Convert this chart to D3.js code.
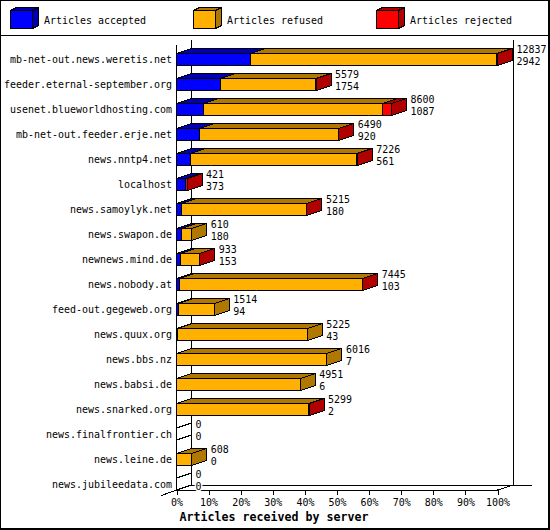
<!DOCTYPE html>
<html>
<head>
<meta charset="utf-8">
<script src="https://cdn.jsdelivr.net/npm/d3@7"></script>
<style>
  html, body { margin: 0; padding: 0; background: #fff; }
  svg { display: block; }
  text { font-family: "DejaVu Sans Mono", monospace; font-size: 11px; fill: #000; }
</style>
</head>
<body>
<div id="chart"></div>
<script>
// ---------- Data ----------
const servers = [
  'mb-net-out.news.weretis.net', 'feeder.eternal-september.org', 'usenet.blueworldhosting.com',
  'mb-net-out.feeder.erje.net', 'news.nntp4.net', 'localhost', 'news.samoylyk.net',
  'news.swapon.de', 'newnews.mind.de', 'news.nobody.at', 'feed-out.gegeweb.org', 'news.quux.org',
  'news.bbs.nz', 'news.babsi.de', 'news.snarked.org', 'news.finalfrontier.ch', 'news.leine.de',
  'news.jubileedata.com'
];
const labelsOffered = [12837, 5579, 8600, 6490, 7226, 421, 5215, 610, 933, 7445, 1514, 5225, 6016, 4951, 5299, 0, 608, 0];
const accepted = [2942, 1754, 1087, 920, 561, 373, 180, 180, 153, 103, 94, 43, 7, 6, 2, 0, 0, 0];
const refused = [9870, 3819, 7153, 5564, 6655, 0, 5030, 430, 772, 7338, 1420, 5182, 6009, 4945, 5294, 0, 608, 0];
const rejected = [25, 6, 360, 6, 10, 48, 5, 0, 8, 4, 0, 0, 0, 0, 3, 0, 0, 0];
const percentTicks = [0, 10, 20, 30, 40, 50, 60, 70, 80, 90, 100];
const legendNames = ['Articles accepted', 'Articles refused', 'Articles rejected'];
const frontColors = ['#0000ff', '#ffb000', '#ff0000'];
const darkColors = ['#0000b0', '#b07800', '#b00000'];

// ---------- Layout ----------
const width = 550, height = 530;
const depthX = 15, depthY = 5;      // 3d offset of the plot
const plotLeft = 176.5, plotRight = 497.5;  // front plane of the x axis
const backRight = 513.5;
const plotTop = 40, plotBottom = 490;
const barHeight = 12;

const svg = d3.select('#chart').append('svg')
  .attr('width', width)
  .attr('height', height)
  .attr('shape-rendering', 'crispEdges');

const x = d3.scaleLinear().domain([0, d3.max(labelsOffered)]).range([plotLeft, plotRight]);
const xPercent = d3.scaleLinear().domain([0, 100]).range([plotLeft, plotRight]);
const y = d3.scaleBand().domain(servers).range([plotTop, plotBottom]);

const line = (g, x1, y1, x2, y2) => g.append('line')
  .attr('x1', x1).attr('y1', y1).attr('x2', x2).attr('y2', y2)
  .attr('stroke', '#000');

// The reference font is a taller bitmap face with a fixed pitch, so squeeze to that pitch
function pitch(sel, px) {
  sel.each(function () {
    d3.select(this)
      .attr('textLength', this.textContent.length * px)
      .attr('lengthAdjust', 'spacingAndGlyphs');
  });
}

// Draw one 3d box. Front face, top face and optionally the side face
function box(g, x0, x1, yTop, h, dx, dy, i, withSide) {
  if (withSide) {
    g.append('polygon')
      .attr('points', [[x1, yTop], [x1 + dx, yTop - dy], [x1 + dx, yTop + h - dy], [x1, yTop + h]].join(' '))
      .attr('fill', darkColors[i]).attr('stroke', '#000');
  }
  g.append('polygon')
    .attr('points', [[x0, yTop], [x0 + dx, yTop - dy], [x1 + dx, yTop - dy], [x1, yTop]].join(' '))
    .attr('fill', darkColors[i]).attr('stroke', '#000');
  g.append('rect')
    .attr('x', x0).attr('y', yTop)
    .attr('width', x1 - x0).attr('height', h)
    .attr('fill', frontColors[i]).attr('stroke', '#000');
}

// ---------- Frame and legend ----------
svg.append('rect')
  .attr('width', 549).attr('height', 529)
  .attr('fill', '#fff').attr('stroke', '#000').attr('stroke-width', 2);
line(svg, 0, 35.5, 550, 35.5);

const legendX = [10.5, 193.5, 376.5];
legendNames.forEach((name, i) => {
  const g = svg.append('g');
  box(g, legendX[i], legendX[i] + 22, 10.5, 18, 6, 3, i, true);
  g.append('text')
    .attr('x', legendX[i] + 33.5).attr('y', 20)
    .attr('dy', '0.35em')
    .text(name)
    .call(pitch, 6);
});

// ---------- Axis walls ----------
const walls = svg.append('g');
line(walls, plotLeft, plotTop + 5, plotLeft, plotBottom);
line(walls, plotLeft + depthX, plotTop, plotLeft + depthX, plotBottom - depthY);
line(walls, backRight, plotTop, backRight, plotBottom - depthY);
line(walls, plotLeft + depthX, plotBottom - depthY + 0.5, 531.5, plotBottom - depthY + 0.5);
line(walls, plotLeft - depthX, plotBottom + depthY + 0.5, plotLeft, plotBottom);
line(walls, plotRight, plotBottom, backRight, plotBottom - depthY);

// x axis with percent labels
const xAxis = d3.axisBottom(xPercent)
  .tickValues(percentTicks)
  .tickFormat(d => d + '%')
  .tickSize(5)
  .tickPadding(3);
const axisG = svg.append('g').attr('transform', `translate(0,${plotBottom})`).call(xAxis);
axisG.attr('font-family', null).attr('font-size', null);
axisG.select('.domain').attr('d', `M${plotLeft},0.5H${plotRight}`).attr('stroke', '#000');
axisG.selectAll('.tick line').attr('stroke', '#000');
axisG.selectAll('.tick text').call(pitch, 6);

svg.append('text')
  .attr('x', 274).attr('y', 517)
  .attr('dy', '0.35em')
  .attr('text-anchor', 'middle')
  .style('font-size', '12.5px')
  .style('font-weight', 'bold')
  .text('Articles received by server')
  .call(pitch, 7);

// ---------- Bars ----------
servers.forEach((name, r) => {
  const bandBottom = y(name) + y.bandwidth();
  const yTop = bandBottom - barHeight;
  const g = svg.append('g');

  g.append('text')
    .attr('x', 172).attr('y', bandBottom - 6)
    .attr('dy', '0.35em')
    .attr('text-anchor', 'end')
    .text(name)
    .call(pitch, 6);

  const parts = [accepted[r], refused[r], rejected[r]];
  const lastPart = parts.reduce((last, v, i) => (v > 0 ? i : last), -1);

  if (lastPart < 0) {
    // empty row: only the outline of a zero width bar
    line(g, plotLeft, yTop, plotLeft + depthX, yTop - depthY);
    line(g, plotLeft, bandBottom, plotLeft + depthX, bandBottom - depthY);
  }

  let sum = 0;
  parts.forEach((v, i) => {
    if (v <= 0) return;
    const x0 = Math.floor(x(sum)) + 0.5;
    const x1 = Math.floor(x(sum + v)) + 0.5;
    box(g, x0, x1, yTop + 0.5, barHeight, depthX, depthY, i, i === lastPart);
    sum += v;
  });

  // value labels sit right of the back edge of the bar
  const labelX = x(sum) + depthX + 4;
  g.selectAll('text.value')
    .data([labelsOffered[r], accepted[r]])
    .enter().append('text')
    .attr('class', 'value')
    .attr('x', labelX)
    .attr('y', (d, k) => y(name) + 9.5 + k * 12)
    .attr('dy', '0.35em')
    .style('font-size', '10px')
    .style('paint-order', 'stroke')
    .style('stroke', '#fff')
    .style('stroke-width', 3)
    .text(d => d)
    .call(pitch, 6);
});
</script>
</body>
</html>
